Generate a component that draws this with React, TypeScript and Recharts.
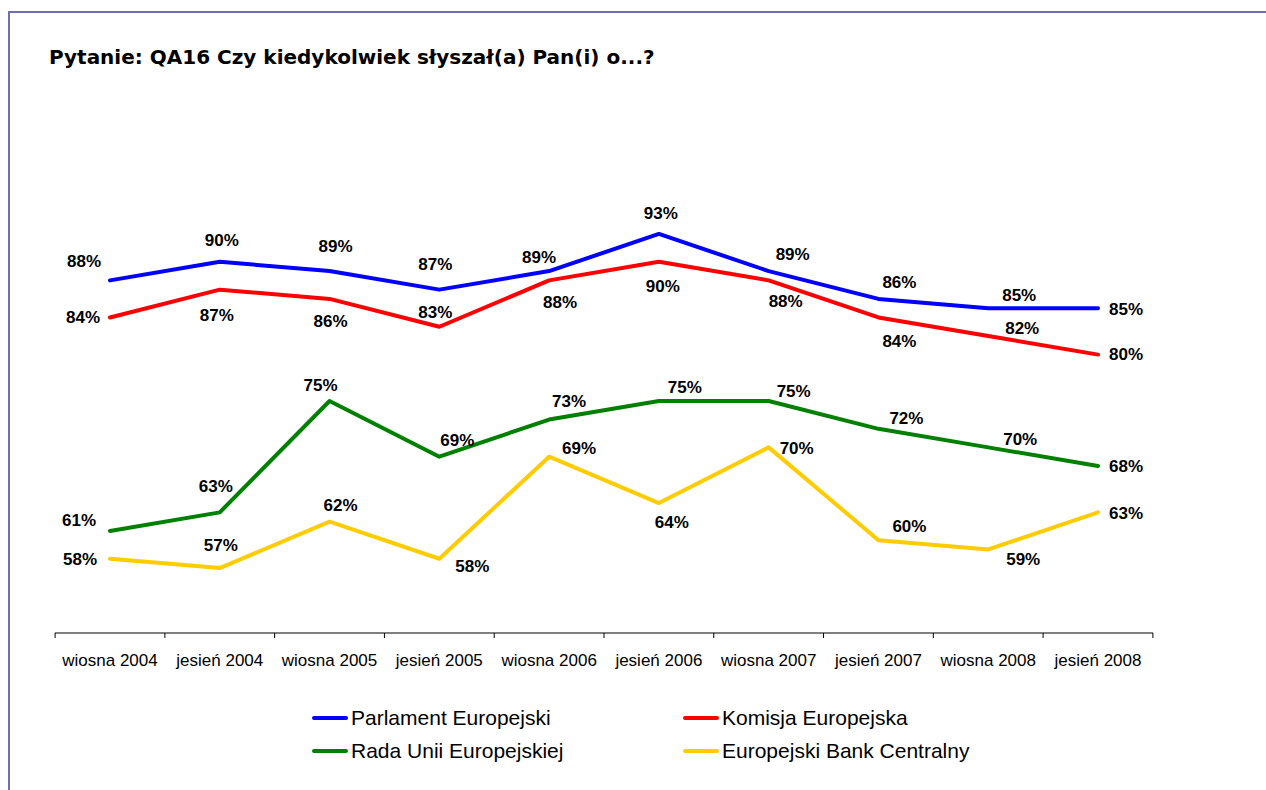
import { Line, LineChart, XAxis, YAxis } from 'recharts';

const categories = [
  'wiosna 2004', 'jesień 2004', 'wiosna 2005', 'jesień 2005', 'wiosna 2006',
  'jesień 2006', 'wiosna 2007', 'jesień 2007', 'wiosna 2008', 'jesień 2008'
];
const parlament = [88, 90, 89, 87, 89, 93, 89, 86, 85, 85];
const komisja = [84, 87, 86, 83, 88, 90, 88, 84, 82, 80];
const rada = [61, 63, 75, 69, 73, 75, 75, 72, 70, 68];
const ebc = [58, 57, 62, 58, 69, 64, 70, 60, 59, 63];

// where each value label sits relative to its point (dx, dy)
const parlamentLabelPos = [[-26, -19], [2, -21], [6, -25], [-4, -25], [-10, -14], [2, -20], [24, -17], [21, -16], [31, -13], [28, 1]];
const komisjaLabelPos = [[-27, 0], [-3, 26], [1, 23], [-4, -14], [11, 22], [4, 25], [17, 21], [21, 24], [34, -8], [28, 0]];
const radaLabelPos = [[-31, -10], [-4, -26], [-9, -16], [18, -16], [20, -18], [26, -14], [25, -10], [28, -10], [32, -8], [28, 1]];
const ebcLabelPos = [[-30, 1], [1, -23], [11, -16], [33, 8], [30, -8], [13, 19], [28, 1], [31, -14], [35, 10], [28, 1]];

const series = [
  { key: 'parlament', name: 'Parlament Europejski', color: '#0000ff', pos: parlamentLabelPos },
  { key: 'komisja', name: 'Komisja Europejska', color: '#ff0000', pos: komisjaLabelPos },
  { key: 'rada', name: 'Rada Unii Europejskiej', color: '#008000', pos: radaLabelPos },
  { key: 'ebc', name: 'Europejski Bank Centralny', color: '#ffcc00', pos: ebcLabelPos }
];

const data = categories.map((c, i) => ({
  period: c, parlament: parlament[i], komisja: komisja[i], rada: rada[i], ebc: ebc[i]
}));

const font = '"Liberation Sans", Arial, sans-serif';
const halfBand = 54.9;

function makeLabel(pos: number[][]) {
  return (props: any) => {
    const { x, y, value, index } = props;
    const [dx, dy] = pos[index] || [0, -16];
    return (
      <text key={index} x={x + dx} y={y + dy} textAnchor="middle" dominantBaseline="central"
        fontFamily={font} fontSize={17} fontWeight="bold" fill="#000">
        {value}%
      </text>
    );
  };
}

// tick label plus tick marks on the category boundaries
function PeriodTick(props: any) {
  const { x, y, payload, index, visibleTicksCount } = props;
  const last = index === visibleTicksCount - 1;
  return (
    <g>
      <line x1={x - halfBand} y1={y} x2={x - halfBand} y2={y + 5} stroke="#000" />
      {last && <line x1={x + halfBand} y1={y} x2={x + halfBand} y2={y + 5} stroke="#000" />}
      <text x={x} y={y + 27} textAnchor="middle" dominantBaseline="central" fontFamily={font} fontSize={17} fill="#000">
        {payload.value}
      </text>
    </g>
  );
}

export default function App() {
  return (
    <div style={{ position: 'fixed', left: 0, top: 0, width: 1266, height: 790, background: '#fff', overflow: 'hidden' }}>
      <div style={{ position: 'absolute', left: 8, top: 11, width: 1300, height: 800, borderLeft: '2px solid #6f6fb0', borderTop: '2px solid #6f6fb0' }} />
      <div style={{ position: 'absolute', left: 49, top: 45, fontFamily: '"DejaVu Sans", Verdana, sans-serif', fontWeight: 'bold', fontSize: 20, whiteSpace: 'nowrap' }}>
        Pytanie: QA16 Czy kiedykolwiek słyszał(a) Pan(i) o...?
      </div>
      <div style={{ position: 'absolute', left: 0, top: 0 }}>
        <LineChart width={1266} height={790} data={data} margin={{ top: 169, right: 113, left: 55, bottom: 127 }}>
          <XAxis dataKey="period" height={30} axisLine={{ stroke: '#000' }} tickLine={false} tickSize={0} tickMargin={0}
            padding={{ left: 55, right: 55 }} interval={0} tick={<PeriodTick />} />
          <YAxis hide domain={[50, 100]} />
          {series.map((s) => (
            <Line key={s.key} dataKey={s.key} name={s.name} stroke={s.color} strokeWidth={4}
              strokeLinecap="round" strokeLinejoin="round" dot={false} isAnimationActive={false}
              label={makeLabel(s.pos)} />
          ))}
        </LineChart>
      </div>
      {series.map((s, i) => (
        <div key={s.key} style={{ position: 'absolute', left: i % 2 === 0 ? 312 : 683, top: i < 2 ? 705 : 738, height: 26, display: 'flex', alignItems: 'center', fontFamily: font, fontSize: 21, color: '#000', whiteSpace: 'nowrap' }}>
          <span style={{ display: 'inline-block', width: 36, height: 4, borderRadius: 2, background: s.color, marginRight: 3 }} />
          {s.name}
        </div>
      ))}
    </div>
  );
}
